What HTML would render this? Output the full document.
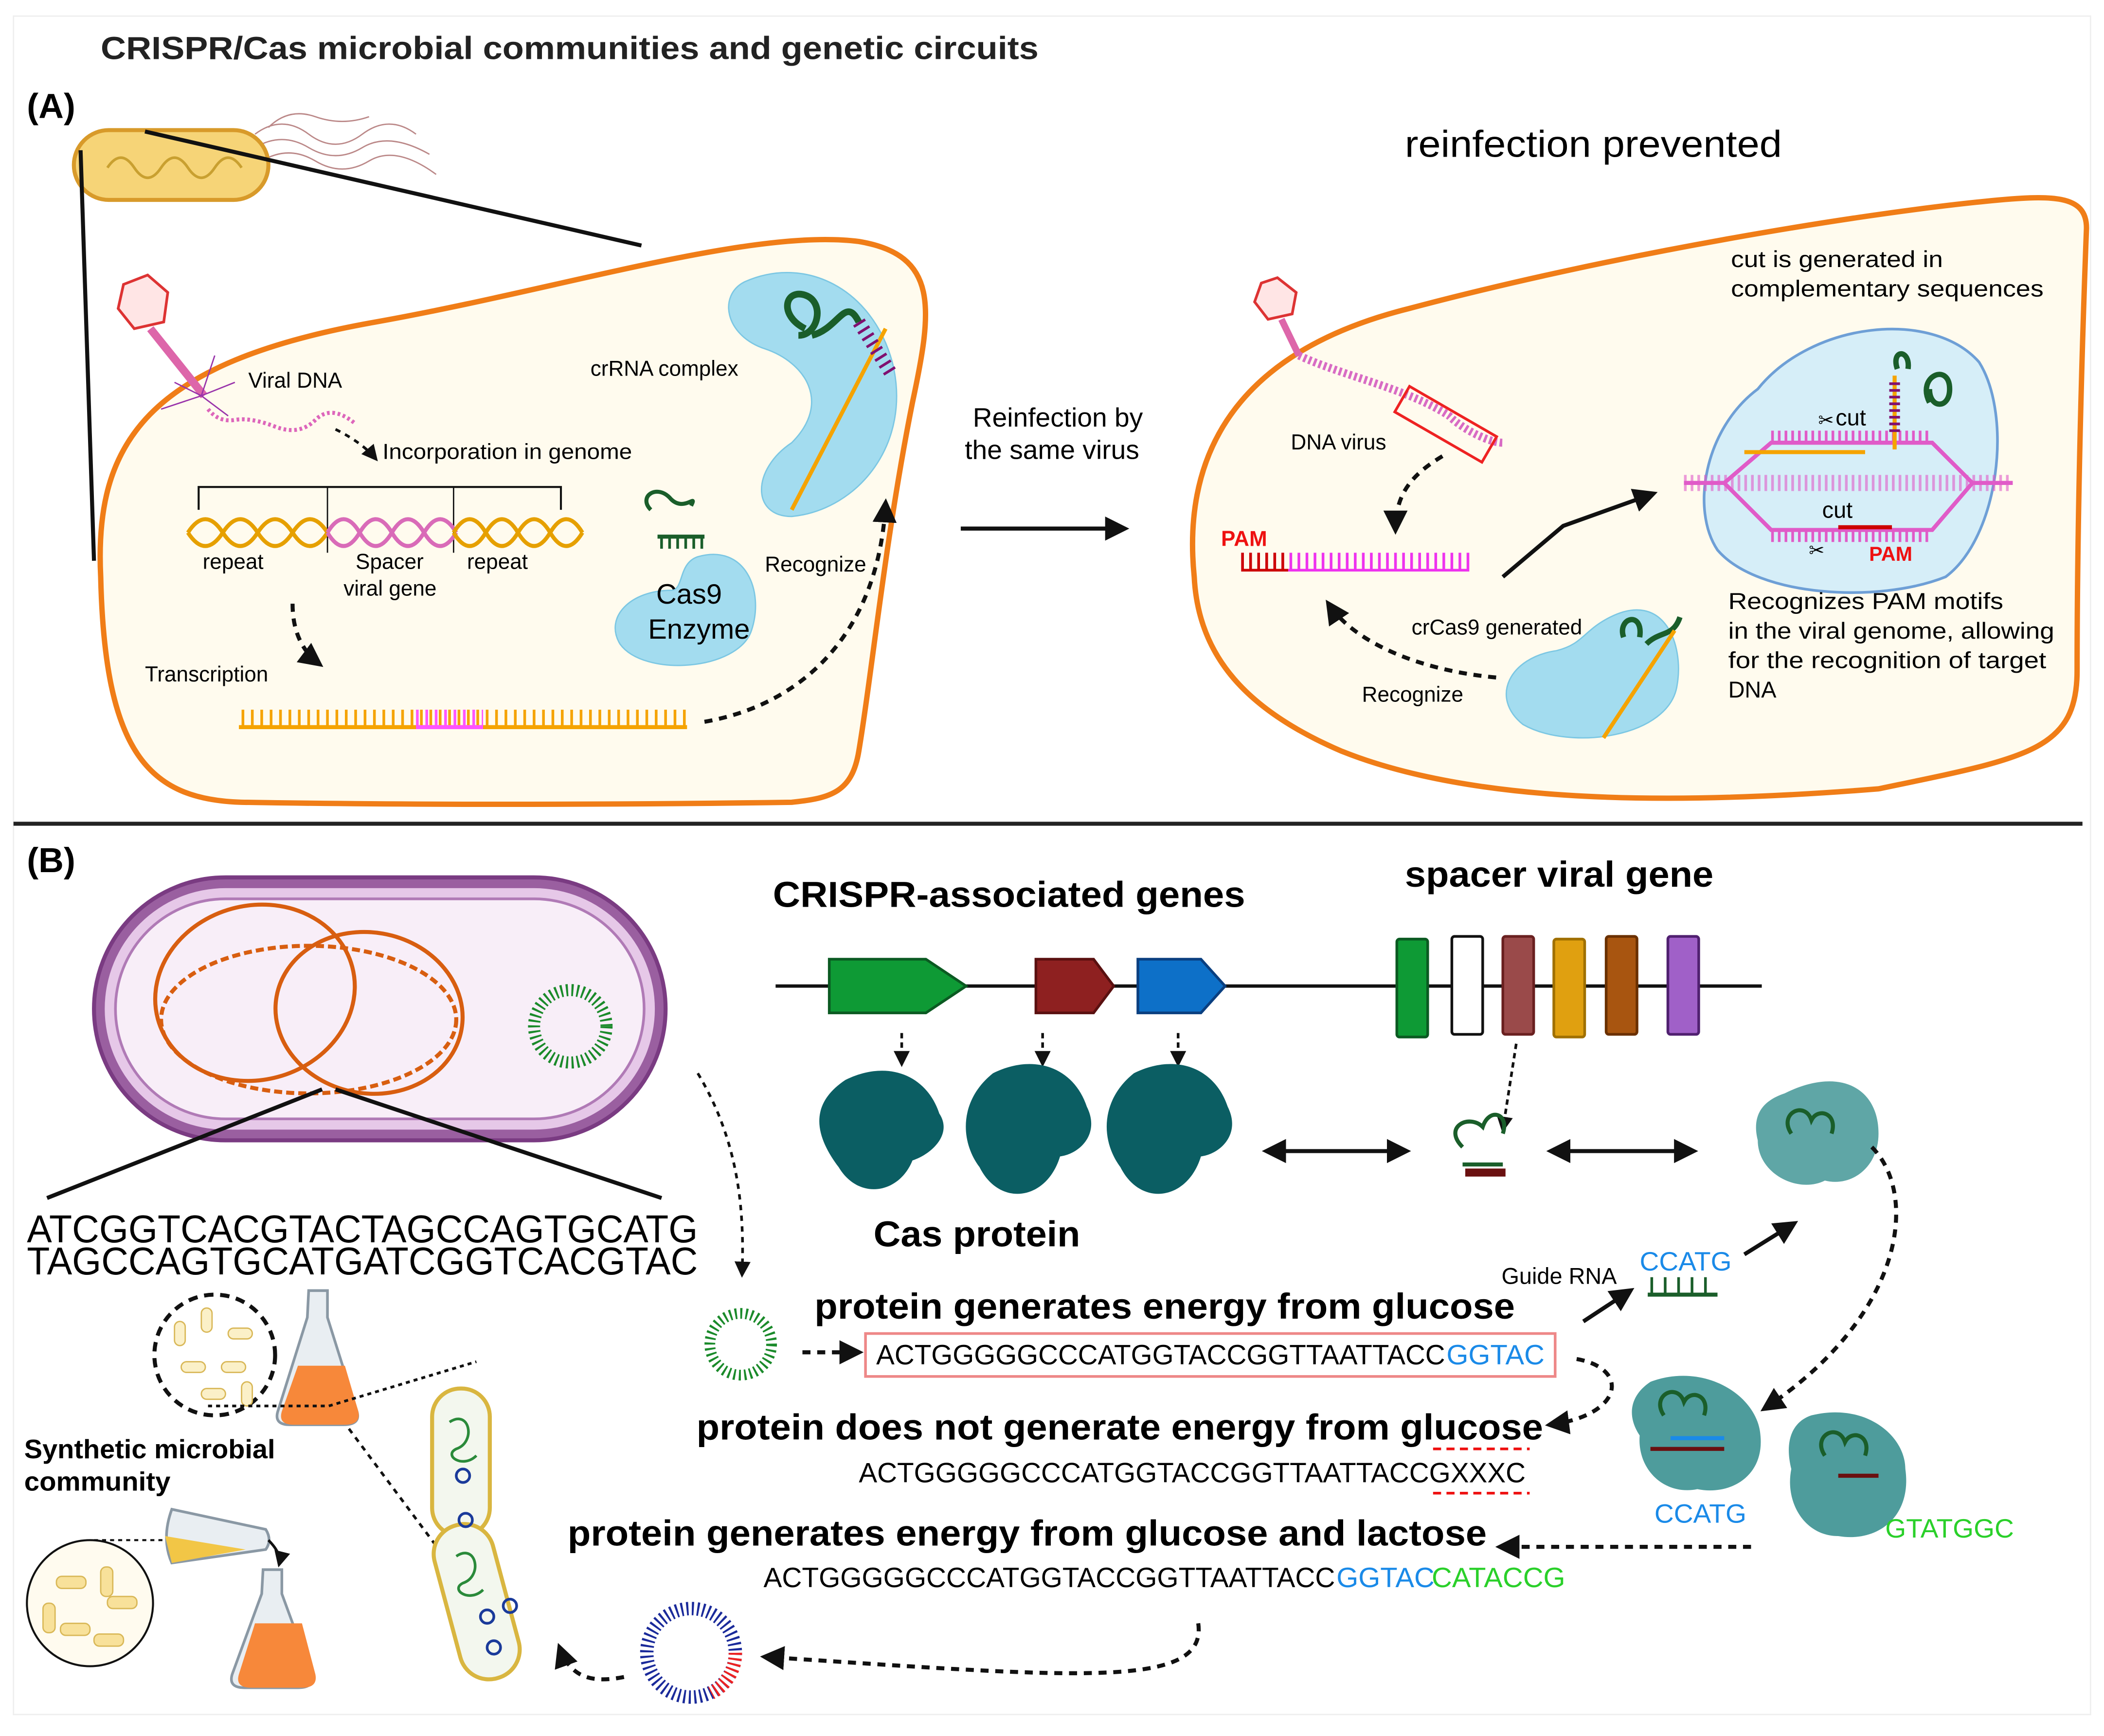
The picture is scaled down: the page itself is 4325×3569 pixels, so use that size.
<!DOCTYPE html>
<html><head><meta charset="utf-8"><style>
html,body{margin:0;padding:0;background:#fff}
svg{display:block}
text{font-family:"Liberation Sans",sans-serif}
</style></head><body>
<svg width="4325" height="3569" viewBox="0 0 1568 1294" xmlns="http://www.w3.org/2000/svg">
<defs>
<marker id="ah" viewBox="0 0 10 10" refX="8" refY="5" markerWidth="6" markerHeight="6" orient="auto-start-reverse"><path d="M0,0L10,5L0,10z" fill="#111"/></marker>
</defs>
<rect width="1568" height="1294" fill="#fff"/>
<rect x="10" y="12" width="1548" height="1266" fill="none" stroke="#eee" stroke-width="1"/>
<text x="75" y="44" font-size="24" font-weight="bold" fill="#222" textLength="699" lengthAdjust="spacingAndGlyphs">CRISPR/Cas  microbial communities and genetic circuits</text>
<text x="20" y="88" font-size="26" font-weight="bold">(A)</text>
<g stroke="#b88" fill="none" stroke-width="1">
<path d="M190,100 q20,-15 40,0 t40,0 t40,0"/><path d="M190,110 q20,-12 40,0 t40,0 t50,5"/><path d="M195,120 q20,-12 40,0 t40,0 t50,10"/><path d="M200,95 q15,-15 35,-8 t40,0"/>
</g>
<rect x="55" y="97" width="145" height="52" rx="26" fill="#f6d477" stroke="#d89a2a" stroke-width="3"/>
<path d="M80,125 q10,-15 20,0 t20,0 t20,0 t20,0 t20,0" stroke="#c9a030" fill="none" stroke-width="2"/>
<line x1="60" y1="112" x2="70" y2="418" stroke="#111" stroke-width="3"/>
<line x1="108" y1="98" x2="478" y2="183" stroke="#111" stroke-width="3"/>
<path d="M75,430 C70,330 110,270 280,240 C420,215 560,170 640,180 C700,190 695,230 680,300 C660,400 650,500 640,560 C635,590 620,595 590,598 C450,600 300,600 180,598 C110,596 78,560 75,430Z" fill="#fffbee" stroke="#f07d17" stroke-width="4"/>
<polygon points="110,205 125,218 122,240 100,245 88,230 92,212" fill="#ffe5e5" stroke="#d33" stroke-width="2"/>
<path d="M112,245 L152,295" stroke="#d6a" stroke-width="6"/>
<path d="M150,295 l-20,-10 m20,10 l25,-10 m-25,10 l-30,10 m30,-10 l10,-30 m-10,30 l20,15" stroke="#93a" fill="none"/>
<path d="M155,305 q8,10 20,8 t30,5 t30,-5 t30,3" stroke="#d6b" stroke-width="3" fill="none" stroke-dasharray="2,2"/>
<text x="185" y="289" font-size="16">Viral DNA</text>
<path d="M250,320 q20,10 30,22" stroke="#111" stroke-width="2" fill="none" stroke-dasharray="4,4" marker-end="url(#ah)"/>
<text x="285" y="342" font-size="16" textLength="186" lengthAdjust="spacingAndGlyphs">Incorporation in genome</text>
<path d="M148,380 V363 H418 V380" stroke="#111" fill="none" stroke-width="1.5"/>
<line x1="244" y1="363" x2="244" y2="412" stroke="#111"/><line x1="338" y1="363" x2="338" y2="412" stroke="#111"/>
<path d="M140,397 q13,-20 26,0 t26,0 t26,0 t26,0" stroke="#e6a000" stroke-width="3" fill="none"/>
<path d="M140,397 q13,20 26,0 t26,0 t26,0 t26,0" stroke="#e6a000" stroke-width="3" fill="none"/>
<path d="M244,397 q12,-20 24,0 t24,0 t24,0 t24,0" stroke="#d96bb8" stroke-width="3" fill="none"/>
<path d="M244,397 q12,20 24,0 t24,0 t24,0 t24,0" stroke="#d96bb8" stroke-width="3" fill="none"/>
<path d="M338,397 q12,-20 24,0 t24,0 t24,0 t24,0" stroke="#e6a000" stroke-width="3" fill="none"/>
<path d="M338,397 q12,20 24,0 t24,0 t24,0 t24,0" stroke="#e6a000" stroke-width="3" fill="none"/>
<text x="151" y="424" font-size="16">repeat</text><text x="265" y="424" font-size="16">Spacer</text><text x="256" y="444" font-size="16">viral gene</text><text x="348" y="424" font-size="16">repeat</text>
<path d="M218,450 q0,30 20,45" stroke="#111" stroke-width="3" fill="none" stroke-dasharray="6,5" marker-end="url(#ah)"/>
<text x="108" y="508" font-size="16">Transcription</text>
<line x1="178" y1="542" x2="512" y2="542" stroke="#f5a300" stroke-width="3"/>
<line x1="180" y1="535" x2="512" y2="535" stroke="#f5a300" stroke-width="12" stroke-dasharray="2,5"/>
<line x1="310" y1="542" x2="360" y2="542" stroke="#f5f" stroke-width="3"/>
<line x1="310" y1="535" x2="360" y2="535" stroke="#f5f" stroke-width="12" stroke-dasharray="2,5"/>
<path d="M525,538 C600,525 655,470 660,375" stroke="#111" stroke-width="3" fill="none" stroke-dasharray="6,5" marker-end="url(#ah)"/>
<path d="M555,210 C600,190 650,215 665,270 C680,330 640,380 590,385 C560,385 560,350 590,330 C620,300 600,270 570,260 C540,250 535,220 555,210Z" fill="#a3dcef" stroke="#7cc7e3"/>
<path d="M600,245 c-20,-10 -15,-30 0,-25 c15,5 10,30 -5,30 m10,0 c20,-5 25,-30 35,-10" stroke="#1a5e2a" stroke-width="5" fill="none"/>
<line x1="660" y1="245" x2="590" y2="380" stroke="#f5a300" stroke-width="3"/>
<line x1="640" y1="240" x2="665" y2="280" stroke="#801070" stroke-width="10" stroke-dasharray="2,4"/>
<text x="440" y="280" font-size="16">crRNA complex</text>
<path d="M485,380 c-10,-10 5,-20 15,-8 c10,10 20,-5 15,5 M490,400 h35" stroke="#1a5e2a" stroke-width="3" fill="none"/>
<line x1="492" y1="405" x2="525" y2="405" stroke="#1a5e2a" stroke-width="8" stroke-dasharray="2,4"/>
<path d="M520,415 C555,405 570,440 560,470 C550,500 480,505 462,480 C450,460 470,440 500,440 C510,440 505,420 520,415Z" fill="#a3dcef" stroke="#7cc7e3"/>
<text x="489" y="450" font-size="21">Cas9</text><text x="483" y="476" font-size="21">Enzyme</text>
<text x="570" y="426" font-size="16">Recognize</text>
<text x="725" y="318" font-size="20">Reinfection by</text><text x="719" y="342" font-size="20">the same virus</text>
<line x1="716" y1="394" x2="838" y2="394" stroke="#111" stroke-width="3" marker-end="url(#ah)"/>
<text x="1047" y="117" font-size="28" textLength="281" lengthAdjust="spacingAndGlyphs">reinfection prevented</text>
<path d="M890,430 C880,330 930,260 1050,230 C1200,190 1380,160 1480,150 C1530,145 1555,145 1555,170 C1550,300 1548,420 1548,500 C1548,560 1510,565 1400,588 C1250,600 1100,600 1000,560 C930,530 893,490 890,430Z" fill="#fffbee" stroke="#f07d17" stroke-width="4"/>
<polygon points="952,207 966,218 963,234 945,238 935,225 940,211" fill="#ffe5e5" stroke="#d33" stroke-width="2"/>
<path d="M955,238 L968,265" stroke="#d6a" stroke-width="5"/>
<path d="M968,265 C1000,280 1050,290 1080,310 C1090,320 1110,330 1120,330" stroke="#d86bc4" stroke-width="6" fill="none" stroke-dasharray="2,2"/>
<rect x="1040" y="305" width="75" height="22" transform="rotate(30 1077 316)" fill="none" stroke="#e22" stroke-width="2"/>
<text x="962" y="335" font-size="16">DNA virus</text>
<path d="M1075,340 C1050,355 1040,370 1040,395" stroke="#111" stroke-width="3" fill="none" stroke-dasharray="6,5" marker-end="url(#ah)"/>
<text x="910" y="407" font-size="16" font-weight="bold" fill="#e11">PAM</text>
<line x1="925" y1="425" x2="1095" y2="425" stroke="#e3e" stroke-width="2"/>
<line x1="925" y1="418" x2="1095" y2="418" stroke="#e3e" stroke-width="12" stroke-dasharray="2,4"/>
<line x1="925" y1="425" x2="960" y2="425" stroke="#c00" stroke-width="2"/>
<line x1="925" y1="418" x2="960" y2="418" stroke="#c00" stroke-width="12" stroke-dasharray="2,4"/>
<path d="M1120,430 L1165,392 L1232,368" stroke="#111" stroke-width="3" fill="none" marker-end="url(#ah)"/>
<text x="1290" y="199" font-size="17" textLength="158" lengthAdjust="spacingAndGlyphs">cut is generated in</text><text x="1290" y="221" font-size="17" textLength="233" lengthAdjust="spacingAndGlyphs">complementary sequences</text>
<path d="M1310,290 C1350,240 1440,230 1475,270 C1500,310 1490,400 1450,430 C1400,450 1310,445 1280,410 C1260,380 1270,320 1310,290Z" fill="#d6eef8" stroke="#6e9fd6" stroke-width="2"/>
<path d="M1255,360 H1285 L1320,330 H1440 L1470,360 H1500" stroke="#e05bc8" stroke-width="3" fill="none"/>
<path d="M1255,360 H1285 L1320,395 H1440 L1470,360 H1500" stroke="#e05bc8" stroke-width="3" fill="none"/>
<line x1="1320" y1="325" x2="1440" y2="325" stroke="#e05bc8" stroke-width="8" stroke-dasharray="2,3"/>
<line x1="1320" y1="400" x2="1440" y2="400" stroke="#e05bc8" stroke-width="8" stroke-dasharray="2,3"/>
<line x1="1255" y1="360" x2="1500" y2="360" stroke="#e05bc8" stroke-width="12" stroke-dasharray="2,3" opacity=".6"/>
<line x1="1300" y1="337" x2="1390" y2="337" stroke="#f5a300" stroke-width="3"/>
<line x1="1370" y1="393" x2="1410" y2="393" stroke="#c00" stroke-width="3"/>
<line x1="1412" y1="280" x2="1412" y2="335" stroke="#f5a300" stroke-width="3"/>
<path d="M1414,275 c-5,-15 10,-15 8,0 M1438,300 c-10,-20 15,-30 15,-10 c0,15 -15,15 -15,0" stroke="#1a5e2a" stroke-width="4" fill="none"/>
<line x1="1412" y1="285" x2="1412" y2="325" stroke="#801070" stroke-width="8" stroke-dasharray="2,3"/>
<text x="1368" y="317" font-size="17">cut</text><text x="1358" y="386" font-size="17">cut</text>
<text x="1355" y="318" font-size="14">✂</text><text x="1348" y="415" font-size="14">✂</text>
<text x="1393" y="418" font-size="15" font-weight="bold" fill="#e11">PAM</text>
<text x="1288" y="454" font-size="17" textLength="205" lengthAdjust="spacingAndGlyphs">Recognizes PAM motifs</text><text x="1288" y="476" font-size="17" textLength="243" lengthAdjust="spacingAndGlyphs">in the viral genome, allowing</text><text x="1288" y="498" font-size="17" textLength="237" lengthAdjust="spacingAndGlyphs">for the recognition of target</text><text x="1288" y="520" font-size="17">DNA</text>
<path d="M1200,460 C1240,440 1255,480 1250,510 C1245,550 1170,560 1135,540 C1110,520 1125,490 1160,485 C1180,480 1180,470 1200,460Z" fill="#a3dcef" stroke="#7cc7e3"/>
<path d="M1210,475 c-5,-15 15,-20 12,0 m5,5 c10,-10 20,-5 25,-20" stroke="#1a5e2a" stroke-width="4" fill="none"/>
<line x1="1248" y1="470" x2="1195" y2="550" stroke="#f5a300" stroke-width="3"/>
<text x="1052" y="473" font-size="16">crCas9 generated</text>
<text x="1015" y="523" font-size="16">Recognize</text>
<path d="M1115,505 C1060,500 1010,480 990,450" stroke="#111" stroke-width="3" fill="none" stroke-dasharray="6,5" marker-end="url(#ah)"/>
<line x1="10" y1="614" x2="1552" y2="614" stroke="#222" stroke-width="3"/>
<text x="20" y="650" font-size="26" font-weight="bold">(B)</text>
<rect x="70" y="654" width="426" height="196" rx="98" fill="#9a5fa0" stroke="#7a3b82" stroke-width="3"/>
<rect x="78" y="662" width="410" height="180" rx="90" fill="#e6c8e8"/>
<rect x="86" y="670" width="394" height="164" rx="82" fill="#f8eef8" stroke="#b07ab6" stroke-width="2"/>
<g fill="none" stroke="#d85e10" stroke-width="3">
<ellipse cx="190" cy="740" rx="75" ry="65" transform="rotate(-15 190 740)"/>
<ellipse cx="275" cy="755" rx="70" ry="60" transform="rotate(10 275 755)"/>
<ellipse cx="230" cy="760" rx="110" ry="55" stroke-dasharray="6,3"/>
</g>
<circle cx="425" cy="765" r="27" fill="none" stroke="#1a8a2a" stroke-width="9" stroke-dasharray="1.5,2.5"/>
<line x1="35" y1="893" x2="240" y2="812" stroke="#111" stroke-width="3"/>
<line x1="250" y1="812" x2="493" y2="893" stroke="#111" stroke-width="3"/>
<text x="20" y="926" font-size="29" textLength="500" lengthAdjust="spacingAndGlyphs">ATCGGTCACGTACTAGCCAGTGCATG</text>
<text x="20" y="950" font-size="29" textLength="500" lengthAdjust="spacingAndGlyphs">TAGCCAGTGCATGATCGGTCACGTAC</text>
<path d="M520,800 C550,850 555,900 553,950" stroke="#111" stroke-width="2" fill="none" stroke-dasharray="4,4" marker-end="url(#ah)"/>
<circle cx="160" cy="1010" r="45" fill="#fff" stroke="#111" stroke-width="3" stroke-dasharray="7,5"/>
<g fill="#fbf0c8" stroke="#d9b858"><rect x="130" y="985" width="8" height="18" rx="4"/><rect x="150" y="975" width="8" height="18" rx="4"/><rect x="170" y="990" width="18" height="8" rx="4"/><rect x="135" y="1015" width="18" height="8" rx="4"/><rect x="165" y="1015" width="18" height="8" rx="4"/><rect x="150" y="1035" width="18" height="8" rx="4"/><rect x="180" y="1030" width="8" height="18" rx="4"/></g>
<path d="M230,962 h14 v20 l22,70 q3,10 -10,10 h-40 q-12,0 -9,-10 l22,-70z" fill="#e9eef2" stroke="#8a98a4" stroke-width="2"/>
<path d="M222,1018 h35 l10,34 q2,10 -10,10 h-38 q-12,0 -9,-10z" fill="#f7883a"/>
<path d="M155,1048 H245 L355,1015" stroke="#111" stroke-width="2" fill="none" stroke-dasharray="3,3"/>
<line x1="260" y1="1065" x2="368" y2="1210" stroke="#111" stroke-width="2" stroke-dasharray="4,4"/>
<rect x="322" y="1035" width="43" height="110" rx="21" fill="#f3f7ee" stroke="#d9b640" stroke-width="3"/>
<rect x="333" y="1135" width="45" height="118" rx="22" transform="rotate(-15 355 1195)" fill="#f3f7ee" stroke="#d9b640" stroke-width="3"/>
<path d="M335,1060 c15,-10 20,15 5,20 c-10,5 5,15 15,5" stroke="#2a8a3a" stroke-width="2" fill="none"/>
<path d="M340,1160 c15,-10 20,15 5,20 c-10,5 5,15 15,5" stroke="#2a8a3a" stroke-width="2" fill="none"/>
<circle cx="345" cy="1100" r="5" fill="none" stroke="#1a3a9a" stroke-width="2"/><circle cx="347" cy="1133" r="5" fill="none" stroke="#1a3a9a" stroke-width="2"/><circle cx="363" cy="1205" r="5" fill="none" stroke="#1a3a9a" stroke-width="2"/><circle cx="380" cy="1197" r="5" fill="none" stroke="#1a3a9a" stroke-width="2"/><circle cx="368" cy="1228" r="5" fill="none" stroke="#1a3a9a" stroke-width="2"/>
<text x="18" y="1087" font-size="20" font-weight="bold" textLength="187" lengthAdjust="spacingAndGlyphs">Synthetic microbial</text>
<text x="18" y="1111" font-size="20" font-weight="bold" textLength="109" lengthAdjust="spacingAndGlyphs">community</text>
<circle cx="67" cy="1195" r="47" fill="#fffbef" stroke="#111" stroke-width="1.5"/>
<g fill="#f8e19a" stroke="#d9b858"><rect x="42" y="1175" width="22" height="9" rx="4"/><rect x="80" y="1190" width="22" height="9" rx="4"/><rect x="45" y="1210" width="22" height="9" rx="4"/><rect x="75" y="1168" width="9" height="22" rx="4"/><rect x="32" y="1195" width="9" height="22" rx="4"/><rect x="70" y="1218" width="22" height="9" rx="4"/></g>
<line x1="70" y1="1148" x2="122" y2="1148" stroke="#111" stroke-width="1.5" stroke-dasharray="3,3"/>
<path d="M128,1125 l70,15 q5,8 0,15 l-70,10 q-8,-18 0,-40z" fill="#e9eef2" stroke="#8a98a4" stroke-width="2"/>
<path d="M123,1145 l60,10 l-55,10z" fill="#f2c646"/>
<path d="M200,1148 q10,10 8,18" stroke="#111" stroke-width="2" fill="none" marker-end="url(#ah)"/>
<path d="M196,1170 h14 v18 l22,60 q3,10 -10,10 h-40 q-12,0 -9,-10 l22,-60z" fill="#e9eef2" stroke="#8a98a4" stroke-width="2"/>
<path d="M190,1210 h35 l10,38 q2,10 -10,10 h-38 q-12,0 -9,-10z" fill="#f7883a"/>
<text x="576" y="676" font-size="27" font-weight="bold" textLength="352" lengthAdjust="spacingAndGlyphs">CRISPR-associated genes</text>
<text x="1047" y="661" font-size="27" font-weight="bold" textLength="230" lengthAdjust="spacingAndGlyphs">spacer viral gene</text>
<line x1="578" y1="735" x2="1313" y2="735" stroke="#111" stroke-width="2.5"/>
<polygon points="618,715 690,715 720,735 690,755 618,755" fill="#0e9a35" stroke="#0b5a22" stroke-width="2"/>
<polygon points="772,715 815,715 830,735 815,755 772,755" fill="#8e2020" stroke="#5a1010" stroke-width="2"/>
<polygon points="848,715 895,715 913,735 895,755 848,755" fill="#0d70c8" stroke="#0a3f80" stroke-width="2"/>
<rect x="1041" y="700" width="23" height="73" rx="2" fill="#0e9a35" stroke="#0b5a22" stroke-width="2"/>
<rect x="1082" y="698" width="23" height="73" rx="2" fill="#fff" stroke="#111" stroke-width="2"/>
<rect x="1120" y="698" width="23" height="73" rx="2" fill="#9a4a4a" stroke="#6a2020" stroke-width="2"/>
<rect x="1158" y="700" width="23" height="73" rx="2" fill="#e0a010" stroke="#a07000" stroke-width="2"/>
<rect x="1197" y="698" width="23" height="73" rx="2" fill="#a85510" stroke="#6a3000" stroke-width="2"/>
<rect x="1243" y="698" width="23" height="73" rx="2" fill="#a060c8" stroke="#502070" stroke-width="2"/>
<g stroke="#111" stroke-width="2" stroke-dasharray="4,3" marker-end="url(#ah)"><line x1="672" y1="770" x2="672" y2="793"/><line x1="777" y1="770" x2="777" y2="793"/><line x1="878" y1="770" x2="878" y2="793"/><line x1="1130" y1="778" x2="1120" y2="842"/></g>
<g fill="#0b5e63">
<path d="M630,805 C660,790 690,800 700,830 C710,845 695,860 680,865 C670,890 640,895 625,870 C610,850 600,825 630,805Z"/>
<path d="M740,800 C770,785 800,795 810,825 C820,845 805,860 790,862 C780,895 745,900 730,870 C715,850 715,820 740,800Z"/>
<path d="M845,800 C875,785 905,795 915,825 C925,845 910,860 895,862 C885,895 850,900 835,870 C820,850 820,820 845,800Z"/>
</g>
<text x="651" y="929" font-size="27" font-weight="bold" textLength="154" lengthAdjust="spacingAndGlyphs">Cas protein</text>
<line x1="944" y1="858" x2="1048" y2="858" stroke="#111" stroke-width="3" marker-start="url(#ah)" marker-end="url(#ah)"/>
<line x1="1156" y1="858" x2="1262" y2="858" stroke="#111" stroke-width="3" marker-start="url(#ah)" marker-end="url(#ah)"/>
<path d="M1090,855 c-15,-15 5,-25 15,-15 c5,-15 20,-10 15,5 M1090,868 h30" stroke="#1a5e2a" stroke-width="3" fill="none"/>
<line x1="1092" y1="874" x2="1122" y2="874" stroke="#6a1010" stroke-width="6"/>
<path d="M1330,815 C1370,795 1400,810 1400,845 C1400,870 1380,885 1360,880 C1340,890 1310,875 1310,850 C1305,830 1315,820 1330,815Z" fill="#4e9c9c" opacity=".9"/>
<path d="M1335,845 c-10,-15 10,-25 15,-10 c5,-10 20,-5 15,10" stroke="#1a5e2a" stroke-width="3" fill="none"/>
<path d="M1395,855 C1430,890 1420,980 1315,1050" stroke="#111" stroke-width="3" fill="none" stroke-dasharray="6,5" marker-end="url(#ah)"/>
<circle cx="552" cy="1002" r="23" fill="none" stroke="#1a8a2a" stroke-width="8" stroke-dasharray="1.5,2.5"/>
<text x="607" y="983" font-size="27" font-weight="bold" textLength="522" lengthAdjust="spacingAndGlyphs">protein generates energy from glucose</text>
<line x1="598" y1="1008" x2="640" y2="1008" stroke="#111" stroke-width="3" stroke-dasharray="6,5" marker-end="url(#ah)"/>
<rect x="645" y="994" width="514" height="32" fill="#fff" stroke="#e88" stroke-width="2"/>
<text x="653" y="1017" font-size="21" textLength="424" lengthAdjust="spacingAndGlyphs">ACTGGGGGCCCATGGTACCGGTTAATTACC</text>
<text x="1078" y="1017" font-size="21" fill="#1a8ae8">GGTAC</text>
<text x="1119" y="957" font-size="17">Guide RNA</text>
<line x1="1180" y1="985" x2="1215" y2="962" stroke="#111" stroke-width="3" marker-end="url(#ah)"/>
<text x="1222" y="947" font-size="20" fill="#1a8ae8">CCATG</text>
<line x1="1228" y1="965" x2="1280" y2="965" stroke="#1a5e2a" stroke-width="3"/>
<line x1="1230" y1="958" x2="1280" y2="958" stroke="#1a5e2a" stroke-width="12" stroke-dasharray="2,8"/>
<line x1="1300" y1="935" x2="1337" y2="912" stroke="#111" stroke-width="3" marker-end="url(#ah)"/>
<path d="M1175,1013 C1215,1020 1210,1055 1155,1062" stroke="#111" stroke-width="3" fill="none" stroke-dasharray="6,5" marker-end="url(#ah)"/>
<text x="519" y="1073" font-size="27" font-weight="bold" textLength="631" lengthAdjust="spacingAndGlyphs">protein does not generate energy from glucose</text>
<text x="640" y="1105" font-size="21" textLength="497" lengthAdjust="spacingAndGlyphs">ACTGGGGGCCCATGGTACCGGTTAATTACCGXXXC</text>
<line x1="1068" y1="1080" x2="1140" y2="1080" stroke="#e11" stroke-width="2" stroke-dasharray="6,4"/>
<line x1="1068" y1="1113" x2="1140" y2="1113" stroke="#e11" stroke-width="2" stroke-dasharray="6,4"/>
<path d="M1230,1030 C1270,1015 1310,1040 1312,1070 C1315,1100 1290,1115 1265,1110 C1240,1115 1220,1095 1222,1070 C1212,1055 1215,1040 1230,1030Z" fill="#4e9c9c"/>
<path d="M1240,1055 c-10,-15 10,-25 15,-10 c5,-10 20,-5 15,10" stroke="#1a5e2a" stroke-width="3" fill="none"/>
<line x1="1245" y1="1072" x2="1285" y2="1072" stroke="#1a8ae8" stroke-width="3"/>
<line x1="1230" y1="1080" x2="1285" y2="1080" stroke="#6a1010" stroke-width="3"/>
<text x="1233" y="1135" font-size="20" fill="#1a8ae8">CCATG</text>
<path d="M1350,1055 C1390,1045 1420,1070 1420,1095 C1425,1130 1400,1150 1370,1145 C1345,1145 1330,1120 1335,1095 C1330,1075 1335,1060 1350,1055Z" fill="#4e9c9c"/>
<path d="M1360,1085 c-10,-15 10,-25 15,-10 c5,-10 20,-5 15,10" stroke="#1a5e2a" stroke-width="3" fill="none"/>
<line x1="1370" y1="1100" x2="1400" y2="1100" stroke="#6a1010" stroke-width="3"/>
<text x="1405" y="1146" font-size="20" fill="#2ad02a">GTATGGC</text>
<text x="423" y="1152" font-size="27" font-weight="bold" textLength="685" lengthAdjust="spacingAndGlyphs">protein generates energy from glucose and lactose</text>
<line x1="1305" y1="1153" x2="1118" y2="1153" stroke="#111" stroke-width="3" stroke-dasharray="6,5" marker-end="url(#ah)"/>
<text x="569" y="1183" font-size="21" textLength="426" lengthAdjust="spacingAndGlyphs">ACTGGGGGCCCATGGTACCGGTTAATTACC</text>
<text x="996" y="1183" font-size="21" fill="#1a8ae8">GGTAC</text>
<text x="1067" y="1183" font-size="21" fill="#2ad02a">CATACCG</text>
<circle cx="515" cy="1232" r="33" fill="none" stroke="#1a2a9a" stroke-width="10" stroke-dasharray="1.5,2.5"/>
<path d="M548,1232 A33,33 0 0 1 530,1262" stroke="#e22" stroke-width="10" fill="none" stroke-dasharray="1.5,2.5"/>
<path d="M893,1210 C900,1260 800,1250 570,1235" stroke="#111" stroke-width="3" fill="none" stroke-dasharray="6,5" marker-end="url(#ah)"/>
<path d="M465,1250 C440,1255 425,1250 417,1228" stroke="#111" stroke-width="3" fill="none" stroke-dasharray="6,5" marker-end="url(#ah)"/>
</svg>
</body></html>
